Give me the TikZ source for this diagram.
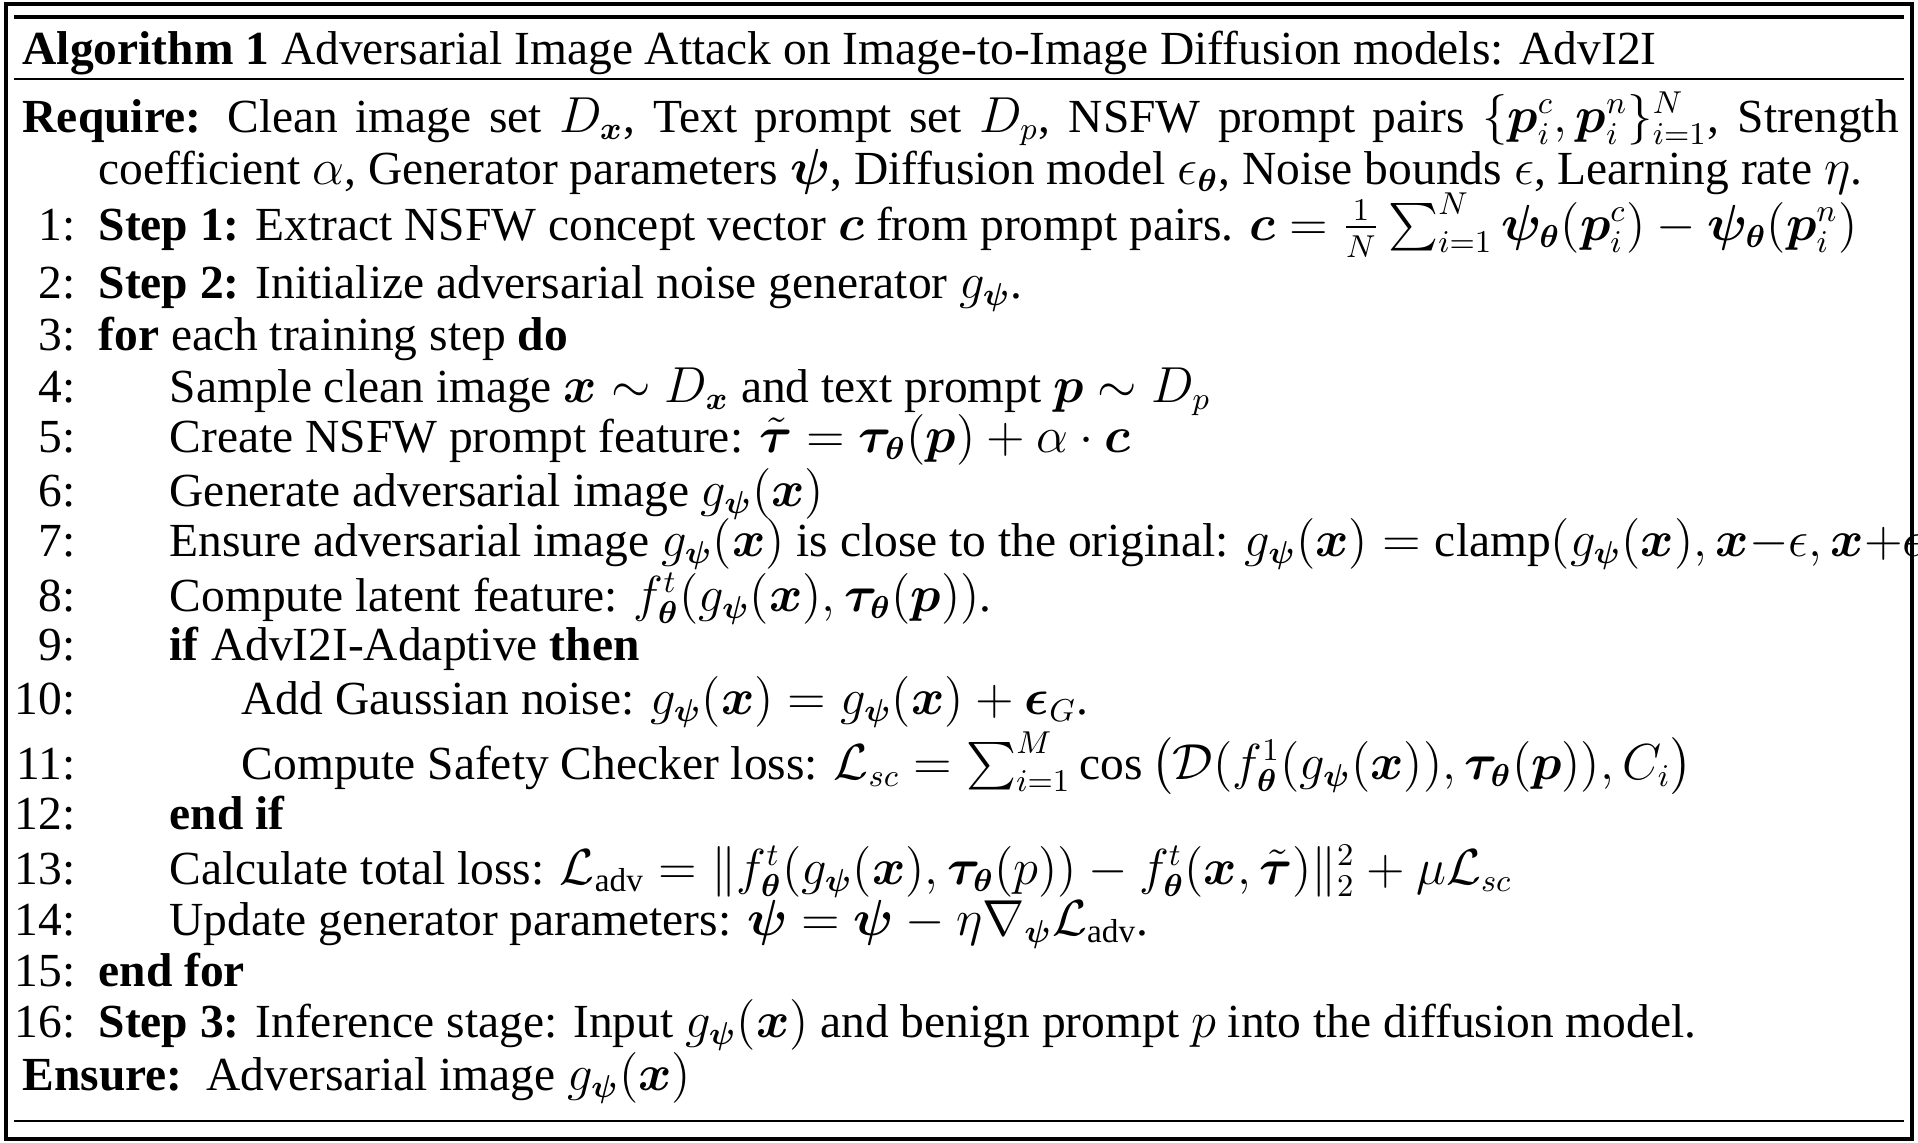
\documentclass[tikz,border=0pt]{standalone}
\usepackage{amsmath,amssymb,bm}
\usepackage{fontspec}
\setmainfont{Liberation Serif}
\usetikzlibrary{positioning}

\newcommand{\vx}{\bm{x}}
\newcommand{\gpx}{g_{\bm{\psi}}(\bm{x})}
\newcommand{\tth}{\bm{\tau_{\theta}}}

\begin{document}
\begin{tikzpicture}[x=0.01cm, y=-0.01cm,
        algline/.style={anchor=mid west, inner sep=0pt, font=\fontsize{13.5}{16}\selectfont},
        linenum/.style={anchor=mid east, inner sep=0pt, font=\fontsize{13.5}{16}\selectfont}
    ]
    \useasboundingbox (0,0) rectangle (1918,1142);
    \draw[line width=1.4pt] (6,4) rectangle (1912,1139);
    \draw[line width=1.1pt] (14,17) -- (1904,17);
    \draw[line width=0.6pt] (14,79) -- (1904,79);
    \draw[line width=0.6pt] (14,1121) -- (1904,1121);

    \node[algline] (caption) at (22,56) {\textbf{Algorithm 1} Adversarial Image Attack on Image-to-Image Diffusion models: AdvI2I};

    \node[algline] (req1) at (22,124) {\makebox[18.75cm][s]{\textbf{Require:} Clean image set $D_{\vx}$, Text prompt set $D_p$, NSFW prompt pairs $\{\bm{p}_i^c,\bm{p}_i^n\}_{i=1}^N$, Strength}};
    \node[algline] (req2) at (98,176) {coefficient $\alpha$, Generator parameters $\bm{\psi}$, Diffusion model $\epsilon_{\bm{\theta}}$, Noise bounds $\epsilon$, Learning rate $\eta$.};

    \node[linenum] (n1)  at (76,232)  {1:};
    \node[algline] (l1)  at (98,232)  {\textbf{Step 1:} Extract NSFW concept vector $\bm{c}$ from prompt pairs. $\bm{c}=\frac{1}{N}\sum_{i=1}^{N}\bm{\psi_{\theta}}(\bm{p}_i^c)-\bm{\psi_{\theta}}(\bm{p}_i^n)$};
    \node[linenum] (n2)  at (76,290)  {2:};
    \node[algline] (l2)  at (98,290)  {\textbf{Step 2:} Initialize adversarial noise generator $g_{\bm{\psi}}$.};
    \node[linenum] (n3)  at (76,342)  {3:};
    \node[algline] (l3)  at (98,342)  {\textbf{for} each training step \textbf{do}};
    \node[linenum] (n4)  at (76,394)  {4:};
    \node[algline] (l4)  at (169,394) {Sample clean image $\vx\sim D_{\vx}$ and text prompt $\bm{p}\sim D_p$};
    \node[linenum] (n5)  at (76,444)  {5:};
    \node[algline] (l5)  at (169,444) {Create NSFW prompt feature: $\tilde{\bm{\tau}}=\tth(\bm{p})+\alpha\cdot\bm{c}$};
    \node[linenum] (n6)  at (76,498)  {6:};
    \node[algline] (l6)  at (169,498) {Generate adversarial image $\gpx$};
    \node[linenum] (n7)  at (76,548)  {7:};
    \node[algline] (l7)  at (169,548) {Ensure adversarial image $\gpx$ is close to the original: $\gpx=\mathrm{clamp}(\gpx,\vx{-}\epsilon,\vx{+}\epsilon)$};
    \node[linenum] (n8)  at (76,603)  {8:};
    \node[algline] (l8)  at (169,603) {Compute latent feature: $f^t_{\bm{\theta}}(\gpx,\tth(\bm{p}))$.};
    \node[linenum] (n9)  at (76,652)  {9:};
    \node[algline] (l9)  at (169,652) {\textbf{if} AdvI2I-Adaptive \textbf{then}};
    \node[linenum] (n10) at (76,706)  {10:};
    \node[algline] (l10) at (241,706) {Add Gaussian noise: $\gpx=\gpx+\bm{\epsilon}_G$.};
    \node[linenum] (n11) at (76,771)  {11:};
    \node[algline] (l11) at (241,771) {Compute Safety Checker loss: $\mathcal{L}_{sc}=\sum_{i=1}^{M}\cos\big(\mathcal{D}(f^1_{\bm{\theta}}(\gpx),\tth(\bm{p})),C_i\big)$};
    \node[linenum] (n12) at (76,821)  {12:};
    \node[algline] (l12) at (169,821) {\textbf{end if}};
    \node[linenum] (n13) at (76,876)  {13:};
    \node[algline] (l13) at (169,876) {Calculate total loss: $\mathcal{L}_{\mathrm{adv}}=\|f^t_{\bm{\theta}}(\gpx,\tth(p))-f^t_{\bm{\theta}}(\vx,\tilde{\bm{\tau}})\|_2^2+\mu\mathcal{L}_{sc}$};
    \node[linenum] (n14) at (76,927)  {14:};
    \node[algline] (l14) at (169,927) {Update generator parameters: $\bm{\psi}=\bm{\psi}-\eta\nabla_{\bm{\psi}}\mathcal{L}_{\mathrm{adv}}$.};
    \node[linenum] (n15) at (76,978)  {15:};
    \node[algline] (l15) at (98,978)  {\textbf{end for}};
    \node[linenum] (n16) at (76,1029) {16:};
    \node[algline] (l16) at (98,1029) {\textbf{Step 3:} Inference stage: Input $\gpx$ and benign prompt $p$ into the diffusion model.};

    \node[algline] (ens) at (22,1082) {\textbf{Ensure:}\ \ Adversarial image $\gpx$};
\end{tikzpicture}
\end{document}
